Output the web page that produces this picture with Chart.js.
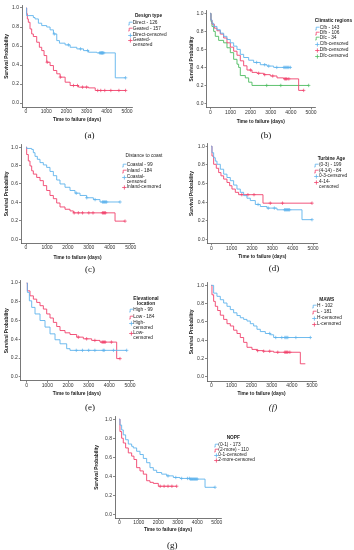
<!DOCTYPE html>
<html><head><meta charset="utf-8">
<script src="https://cdn.jsdelivr.net/npm/chart.js@4.4.0/dist/chart.umd.min.js"></script>
<style>
html,body{margin:0;padding:0;background:#fff;width:354px;height:550px;overflow:hidden;position:relative;font-family:"Liberation Sans",Arial,sans-serif;}
canvas{position:absolute;}
.lg{position:absolute;font-size:4.8px;color:#222;line-height:4.6px;white-space:nowrap;}
.lt{position:absolute;font-weight:bold;font-size:4.8px;color:#222;text-align:center;transform:translate(-50%,-50%);white-space:nowrap;line-height:5.2px;}
.gl{position:absolute;}
.cap{position:absolute;font-family:"Liberation Serif","DejaVu Serif",serif;font-size:9px;color:#111;transform:translate(-50%,-50%);white-space:nowrap;}
</style></head><body>
<script>
// ---------- shared ticks ----------
const timeTicks = [0, 1000, 2000, 3000, 4000, 5000];
const probTicks = [0, 0.2, 0.4, 0.6, 0.8, 1.0];
const xAxisTitle = 'Time to failure (days)';
const yAxisTitle = 'Survival Probability';

// ---------- (a) Design type ----------
const designTitle = 'Design type';
const directLabel = 'Direct - 126', directCensLabel = 'Direct-censored';
const directTime = [0, 30, 364, 447, 613, 778, 1026, 1192, 1358, 1523, 1656, 1937, 2185, 2517, 2848, 3096, 3510, 4420, 4930];
const directSurv = [1, 0.92, 0.90, 0.885, 0.84, 0.815, 0.80, 0.77, 0.727, 0.657, 0.63, 0.612, 0.587, 0.57, 0.552, 0.535, 0.528, 0.266, 0.266];
const directCens = [1400, 2100, 2700, 3050, 3650, 3700, 3720, 3750, 3780, 3800, 3850, 4930];
const gearedLabel = 'Geared - 157', gearedCensLabel = 'Geared-censored';
const gearedTime = [0, 33, 66, 116, 199, 281, 364, 530, 662, 778, 894, 1026, 1192, 1358, 1523, 1689, 1937, 2185, 2599, 3096, 3427, 4930];
const gearedSurv = [1, 0.94, 0.885, 0.85, 0.78, 0.727, 0.70, 0.64, 0.587, 0.552, 0.50, 0.43, 0.395, 0.343, 0.308, 0.273, 0.22, 0.185, 0.168, 0.16, 0.133, 0.133];
const gearedCens = [1050, 1700, 2350, 2550, 2800, 3000, 3550, 3700, 3900, 4200, 4600, 4930];

// ---------- (b) Climatic regions ----------
const climateTitle = 'Climatic regions';
const cfbLabel = 'Cfb - 143', cfbCensLabel = 'Cfb-censored';
const cfbTime = [0, 33, 83, 166, 331, 497, 662, 828, 993, 1159, 1325, 1490, 1656, 1904, 2152, 2483, 2815, 3146, 3974];
const cfbSurv = [1, 0.927, 0.89, 0.855, 0.818, 0.78, 0.745, 0.71, 0.673, 0.636, 0.60, 0.545, 0.51, 0.48, 0.455, 0.43, 0.415, 0.40, 0.40];
const cfbCens = [2300, 2700, 2900, 3300, 3650, 3700, 3750, 3800, 3850, 3900, 3974];
const dfbLabel = 'Dfb - 106', dfbCensLabel = 'Dfb-censored';
const dfbTime = [0, 33, 83, 199, 331, 497, 662, 828, 993, 1159, 1325, 1490, 1656, 1821, 2070, 2318, 2649, 2980, 3311, 3642, 4387, 4636];
const dfbSurv = [1, 0.927, 0.88, 0.836, 0.807, 0.77, 0.727, 0.673, 0.625, 0.58, 0.535, 0.473, 0.418, 0.371, 0.345, 0.335, 0.32, 0.305, 0.284, 0.273, 0.145, 0.145];
const dfbCens = [2000, 2400, 2700, 3100, 3700, 3750, 3800, 3900, 4636];
const dfcLabel = 'Dfc - 34', dfcCensLabel = 'Dfc-censored';
const dfcTime = [0, 33, 83, 166, 248, 414, 662, 828, 993, 1159, 1325, 1407, 1490, 1738, 1904, 2070, 4884];
const dfcSurv = [1, 0.91, 0.855, 0.80, 0.745, 0.70, 0.673, 0.618, 0.564, 0.49, 0.436, 0.40, 0.31, 0.284, 0.236, 0.20, 0.20];
const dfcCens = [2800, 3500, 4884];

// ---------- (c) Distance to coast ----------
const coastTitle = 'Distance to coast';
const coastalLabel = 'Coastal - 99', coastalCensLabel = 'Coastal-censored';
const coastalTime = [0, 32, 271, 350, 430, 541, 669, 828, 987, 1146, 1306, 1465, 1624, 1863, 2102, 2341, 2580, 2898, 3217, 3535, 4490];
const coastalSurv = [1, 0.986, 0.975, 0.94, 0.90, 0.868, 0.832, 0.807, 0.78, 0.736, 0.69, 0.643, 0.60, 0.564, 0.529, 0.50, 0.475, 0.45, 0.43, 0.404, 0.404];
const coastalCens = [2400, 2900, 3300, 3650, 3700, 3750, 3800, 3850, 4490];
const inlandLabel = 'Inland - 184', inlandCensLabel = 'Inland-censored';
const inlandTime = [0, 32, 111, 191, 271, 350, 510, 669, 828, 987, 1146, 1306, 1465, 1624, 1863, 2102, 2261, 4252, 4729];
const inlandSurv = [1, 0.92, 0.85, 0.796, 0.743, 0.707, 0.671, 0.636, 0.582, 0.529, 0.475, 0.44, 0.393, 0.35, 0.325, 0.307, 0.286, 0.196, 0.196];
const inlandCens = [2300, 2500, 2700, 3000, 3200, 3650, 3700, 3750, 3800, 4729];

// ---------- (d) Turbine Age ----------
const ageTitle = 'Turbine Age';
const age03Label = '(0-3) - 199', age03CensLabel = '0-3-censored';
const age03Time = [0, 33, 115, 197, 279, 443, 607, 770, 934, 1098, 1262, 1426, 1590, 1754, 1918, 2164, 2410, 2738, 3230, 4459, 4951];
const age03Surv = [1, 0.93, 0.876, 0.84, 0.806, 0.753, 0.70, 0.664, 0.63, 0.583, 0.54, 0.505, 0.47, 0.442, 0.417, 0.375, 0.353, 0.336, 0.318, 0.212, 0.212];
const age03Cens = [2300, 2800, 3100, 3600, 3650, 3700, 3750, 3800, 3850, 4951];
const age414Label = '(4-14) - 84', age414CensLabel = '4-14-censored';
const age414Time = [0, 33, 115, 246, 361, 475, 607, 770, 902, 1016, 1180, 1344, 2541, 4951];
const age414Surv = [1, 0.894, 0.806, 0.763, 0.717, 0.682, 0.647, 0.611, 0.576, 0.54, 0.505, 0.48, 0.389, 0.389];
const age414Cens = [1500, 1800, 2100, 2900, 3500, 4951];

// ---------- (e) Elevational location ----------
const elevTitle = 'Elevational location';
const highLabel = 'High - 99', highCensLabel = 'High-censored';
const highTime = [0, 32, 129, 242, 403, 645, 887, 1129, 1371, 1613, 1935, 2097, 4839];
const highSurv = [1, 0.90, 0.81, 0.74, 0.67, 0.60, 0.53, 0.458, 0.395, 0.352, 0.30, 0.282, 0.282];
const highCens = [2400, 2700, 3000, 3300, 3700, 3750, 4200, 4839];
const lowLabel = 'Low - 184', lowCensLabel = 'Low-censored';
const lowTime = [0, 32, 161, 323, 484, 645, 806, 968, 1129, 1290, 1452, 1613, 1855, 2097, 2419, 2742, 3145, 3548, 4355, 4516];
const lowSurv = [1, 0.916, 0.863, 0.828, 0.793, 0.758, 0.722, 0.67, 0.627, 0.58, 0.536, 0.493, 0.469, 0.451, 0.423, 0.405, 0.388, 0.37, 0.194, 0.194];
const lowCens = [2500, 2900, 3300, 3650, 3700, 3750, 3800, 4100, 4516];

// ---------- (f) MAWS ----------
const mawsTitle = 'MAWS';
const hLabel = 'H - 102', hCensLabel = 'H-censored';
const hTime = [0, 116, 281, 447, 613, 778, 944, 1109, 1275, 1440, 1606, 1772, 1937, 2103, 2268, 2434, 2682, 2930, 3096, 4917];
const hSurv = [1, 0.915, 0.88, 0.843, 0.807, 0.771, 0.735, 0.70, 0.67, 0.646, 0.628, 0.61, 0.581, 0.556, 0.52, 0.495, 0.474, 0.46, 0.43, 0.43];
const hCens = [2900, 3200, 3500, 3650, 3700, 3750, 3800, 4200, 4917];
const lLabel = 'L - 181', lCensLabel = 'L-censored';
const lTime = [0, 33, 116, 199, 315, 447, 613, 778, 944, 1109, 1275, 1440, 1606, 1772, 2020, 2268, 2599, 3096, 4421, 4669];
const lSurv = [1, 0.897, 0.825, 0.771, 0.725, 0.674, 0.628, 0.581, 0.556, 0.51, 0.474, 0.43, 0.377, 0.323, 0.30, 0.287, 0.28, 0.269, 0.143, 0.143];
const lCens = [2300, 2600, 2900, 3300, 3650, 3700, 3750, 3800, 3900];

// ---------- (g) NOPF ----------
const nopfTitle = 'NOPF';
const n01Label = '(0-1) - 173', n01CensLabel = '0-1-censored';
const n01Time = [0, 34, 120, 205, 325, 462, 634, 719, 890, 1062, 1233, 1404, 1575, 1747, 1918, 2175, 2432, 2774, 3116, 3630, 4401, 4914];
const n01Surv = [1, 0.938, 0.887, 0.835, 0.784, 0.739, 0.715, 0.698, 0.663, 0.629, 0.588, 0.543, 0.491, 0.464, 0.44, 0.423, 0.405, 0.388, 0.378, 0.371, 0.285, 0.285];
const n01Cens = [2500, 2900, 3200, 3500, 3600, 3650, 3700, 3750, 3800, 3850, 3900, 3950, 4000, 4914];
const n2Label = '(2-more) - 110', n2CensLabel = '2-more-censored';
const n2Time = [0, 34, 120, 205, 325, 462, 634, 753, 890, 1062, 1233, 1404, 1575, 1747, 2003, 2945];
const n2Surv = [1, 0.87, 0.80, 0.75, 0.698, 0.646, 0.612, 0.577, 0.491, 0.457, 0.423, 0.354, 0.337, 0.326, 0.296, 0.296];
const n2Cens = [2100, 2300, 2500, 2700, 2945];

// ---------- styles ----------
const BLUE = '#5fb3ec', RED = '#f0426c', GREEN = '#4dbb60';

// ---------- panel content ----------
const panels = [
  {cap:'(a)', title:designTitle, series:[
    {label:directLabel, cens:directCensLabel, t:directTime, s:directSurv, c:directCens, color:BLUE},
    {label:gearedLabel, cens:gearedCensLabel, t:gearedTime, s:gearedSurv, c:gearedCens, color:RED}]},
  {cap:'(b)', title:climateTitle, series:[
    {label:cfbLabel, cens:cfbCensLabel, t:cfbTime, s:cfbSurv, c:cfbCens, color:BLUE},
    {label:dfbLabel, cens:dfbCensLabel, t:dfbTime, s:dfbSurv, c:dfbCens, color:RED},
    {label:dfcLabel, cens:dfcCensLabel, t:dfcTime, s:dfcSurv, c:dfcCens, color:GREEN}]},
  {cap:'(c)', title:coastTitle, series:[
    {label:coastalLabel, cens:coastalCensLabel, t:coastalTime, s:coastalSurv, c:coastalCens, color:BLUE},
    {label:inlandLabel, cens:inlandCensLabel, t:inlandTime, s:inlandSurv, c:inlandCens, color:RED}]},
  {cap:'(d)', title:ageTitle, series:[
    {label:age03Label, cens:age03CensLabel, t:age03Time, s:age03Surv, c:age03Cens, color:BLUE},
    {label:age414Label, cens:age414CensLabel, t:age414Time, s:age414Surv, c:age414Cens, color:RED}]},
  {cap:'(e)', title:elevTitle, series:[
    {label:highLabel, cens:highCensLabel, t:highTime, s:highSurv, c:highCens, color:BLUE},
    {label:lowLabel, cens:lowCensLabel, t:lowTime, s:lowSurv, c:lowCens, color:RED}]},
  {cap:'(f)', title:mawsTitle, series:[
    {label:hLabel, cens:hCensLabel, t:hTime, s:hSurv, c:hCens, color:BLUE},
    {label:lLabel, cens:lCensLabel, t:lTime, s:lSurv, c:lCens, color:RED}]},
  {cap:'(g)', title:nopfTitle, series:[
    {label:n01Label, cens:n01CensLabel, t:n01Time, s:n01Surv, c:n01Cens, color:BLUE},
    {label:n2Label, cens:n2CensLabel, t:n2Time, s:n2Surv, c:n2Cens, color:RED}]}
];

// ---------- pixel layout (positions only) ----------
const layouts = [
  {left:0, px0:26, px5:127, axisX:22, areaRight:132, p1:7.3, p0:103, areaTop:5, areaBottom:107, titleY:120, cap:[89.5,134.7],
   lg:{tx:148.5, ty:16, gx:127.5, x:132.7, rows:[23.3,29,35,40.7], wrap:[3], bold:true}},
  {left:185, px0:210.3, px5:311, axisX:206.5, areaRight:315, p1:11.7, p0:103.3, areaTop:9, areaBottom:107.3, titleY:122, cap:[266,135],
   lg:{tx:333.5, ty:20.7, gx:314.8, x:319.7, rows:[28.5,33.5,38.5,44.3,50,56], wrap:[], bold:true}},
  {left:0, px0:26, px5:130.7, axisX:21, areaRight:134, p1:146, p0:239.3, areaTop:143.5, areaBottom:243.3, titleY:258.3, cap:[90,269.3],
   lg:{tx:144, ty:156, gx:121.7, x:126.7, rows:[165,171,177.7,187.7], wrap:[2], bold:false}},
  {left:185, px0:211.3, px5:313, axisX:207.7, areaRight:317, p1:145, p0:239.3, areaTop:142.5, areaBottom:243.3, titleY:257, cap:[274,268],
   lg:{tx:331.5, ty:159.3, gx:314.2, x:319, rows:[165,171,176.7,182.7], wrap:[3], bold:true}},
  {left:0, px0:26.7, px5:130, axisX:20.7, areaRight:133, p1:282.3, p0:376.7, areaTop:280, areaBottom:380.7, titleY:394, cap:[90,407.3],
   lg:{tx:146, ty:300.8, gx:128.5, x:133.3, rows:[310.7,317.3,323.3,333.3], wrap:[2,3], bold:true, titleWrap:true}},
  {left:185, px0:211.3, px5:312, axisX:207, areaRight:316, p1:283.7, p0:376.7, areaTop:281, areaBottom:381, titleY:394, cap:[273,407.3], italicCap:true,
   lg:{tx:326.7, ty:300, gx:312.3, x:317, rows:[306.7,312.7,318.7,324.3], wrap:[], bold:true}},
  {left:90, px0:119.3, px5:216.7, axisX:115, areaRight:221, p1:417.5, p0:514.3, areaTop:415, areaBottom:518, titleY:530, cap:[172.3,545],
   lg:{tx:233.3, ty:438.3, gx:213.6, x:218.3, rows:[445,450,455,460.7], wrap:[], bold:true}}
];

function survAt(t, s, time){ let v = s[0]; for (let i=0;i<t.length;i++){ if (t[i] <= time) v = s[i]; } return v; }

const FONT = 'Liberation Sans';
const svgNS = 'http://www.w3.org/2000/svg';
function glyph(x, y, color, kind){
  const svg = document.createElementNS(svgNS,'svg');
  svg.setAttribute('width','5'); svg.setAttribute('height','5');
  svg.setAttribute('class','gl');
  svg.style.left = x+'px'; svg.style.top = (y-2.5)+'px';
  const p = document.createElementNS(svgNS,'path');
  p.setAttribute('d', kind==='line' ? 'M0.3,4 H1.2 V1.2 H4.6' : 'M0.2,2.5 H4.6 M2.4,0.4 V4.6');
  p.setAttribute('stroke', color); p.setAttribute('stroke-width','0.8'); p.setAttribute('fill','none');
  svg.appendChild(p); document.body.appendChild(svg);
}

panels.forEach((pn, idx) => {
  const L = layouts[idx];
  const top = Math.max(0, L.p1 - 6);
  const padRight = 12;
  const canvasBottom = L.titleY + 2.9;
  const W = Math.round(L.areaRight - L.left + padRight);
  const H = Math.round(canvasBottom - top);
  const cv = document.createElement('canvas');
  cv.width = W; cv.height = H;
  cv.style.left = L.left+'px'; cv.style.top = top+'px';
  cv.style.width = W+'px'; cv.style.height = H+'px';
  document.body.appendChild(cv);

  const kx = (L.px5 - L.px0)/5000;
  const xmin = (L.axisX - L.px0)/kx, xmax = (L.areaRight - L.px0)/kx;
  const ky = (L.p0 - L.p1);
  const ymax = (L.p0 - L.areaTop)/ky, ymin = (L.p0 - L.areaBottom)/ky;
  const yW = L.axisX - L.left;
  const xH = canvasBottom - L.areaBottom;

  const datasets = [];
  pn.series.forEach(sr => {
    datasets.push({label: sr.label, data: sr.t.map((t,i)=>({x:t, y:sr.s[i]})), stepped: true,
      borderColor: sr.color, backgroundColor: sr.color, borderWidth: 0.9, pointRadius: 0, fill: false, order: 2});
  });
  pn.series.forEach(sr => {
    datasets.push({label: sr.cens, data: sr.c.map(t=>({x:t, y:survAt(sr.t, sr.s, t)})), showLine: false,
      pointStyle: 'cross', pointRadius: 1.7, pointBorderWidth: 0.7, borderColor: sr.color, backgroundColor: sr.color, order: 1});
  });

  new Chart(cv, {
    type: 'line',
    data: { datasets },
    options: {
      responsive: false, animation: false, devicePixelRatio: 1,
      layout: { padding: { left: 0, top: L.areaTop - top, right: padRight, bottom: 0 } },
      plugins: { legend: { display: false }, tooltip: { enabled: false } },
      scales: {
        x: { type: 'linear', min: xmin, max: xmax,
          afterBuildTicks: s => { s.ticks = timeTicks.map(v => ({value: v})); },
          afterFit: s => { s.height = xH; },
          ticks: { font: {family: FONT, size: 5}, color: '#333', padding: 0, maxRotation: 0, autoSkip: false, callback: v => String(v) },
          grid: { display: true, drawOnChartArea: false, drawTicks: true, tickLength: 2, color: '#555', lineWidth: 0.7 },
          border: { display: true, color: '#555', width: 0.8 },
          title: { display: true, text: xAxisTitle, font: {family: FONT, size: 4.8, weight: 'bold'}, color: '#222', padding: {top: 0, bottom: 0} } },
        y: { type: 'linear', min: ymin, max: ymax,
          afterBuildTicks: s => { s.ticks = probTicks.map(v => ({value: v})); },
          afterFit: s => { s.width = yW; },
          ticks: { font: {family: FONT, size: 5}, color: '#333', padding: 1, callback: v => Number(v).toFixed(1), autoSkip: false },
          grid: { display: true, drawOnChartArea: false, drawTicks: true, tickLength: 2, color: '#555', lineWidth: 0.7 },
          border: { display: true, color: '#555', width: 0.8 },
          title: { display: true, text: yAxisTitle, font: {family: FONT, size: 4.8, weight: 'bold'}, color: '#222', padding: {top: 3.3, bottom: 0} } }
      }
    }
  });

  // legend (HTML text)
  const lg = L.lg;
  const t = document.createElement('div');
  t.className = 'lt';
  t.style.left = lg.tx+'px'; t.style.top = lg.ty+'px';
  if (!lg.bold) t.style.fontWeight = 'normal';
  if (lg.titleWrap) t.innerHTML = pn.title.replace(' ', '<br>'); else t.textContent = pn.title;
  document.body.appendChild(t);
  const items = pn.series.map(s => ({text: s.label, color: s.color, kind: 'line'}))
    .concat(pn.series.map(s => ({text: s.cens, color: s.color, kind: 'cross'})));
  items.forEach((it, i) => {
    const y = lg.rows[i];
    glyph(lg.gx, y, it.color, it.kind);
    const d = document.createElement('div');
    d.className = 'lg';
    d.style.left = lg.x+'px'; d.style.top = (y - 2.3)+'px';
    if (lg.wrap.includes(i)) { const k = it.text.lastIndexOf('-'); d.innerHTML = it.text.slice(0, k+1) + '<br>' + it.text.slice(k+1); }
    else d.textContent = it.text;
    document.body.appendChild(d);
  });

  const c = document.createElement('div');
  c.className = 'cap';
  c.style.left = L.cap[0]+'px'; c.style.top = L.cap[1]+'px';
  if (L.italicCap) c.style.fontStyle = 'italic';
  c.textContent = pn.cap;
  document.body.appendChild(c);
});
</script>
</body></html>
